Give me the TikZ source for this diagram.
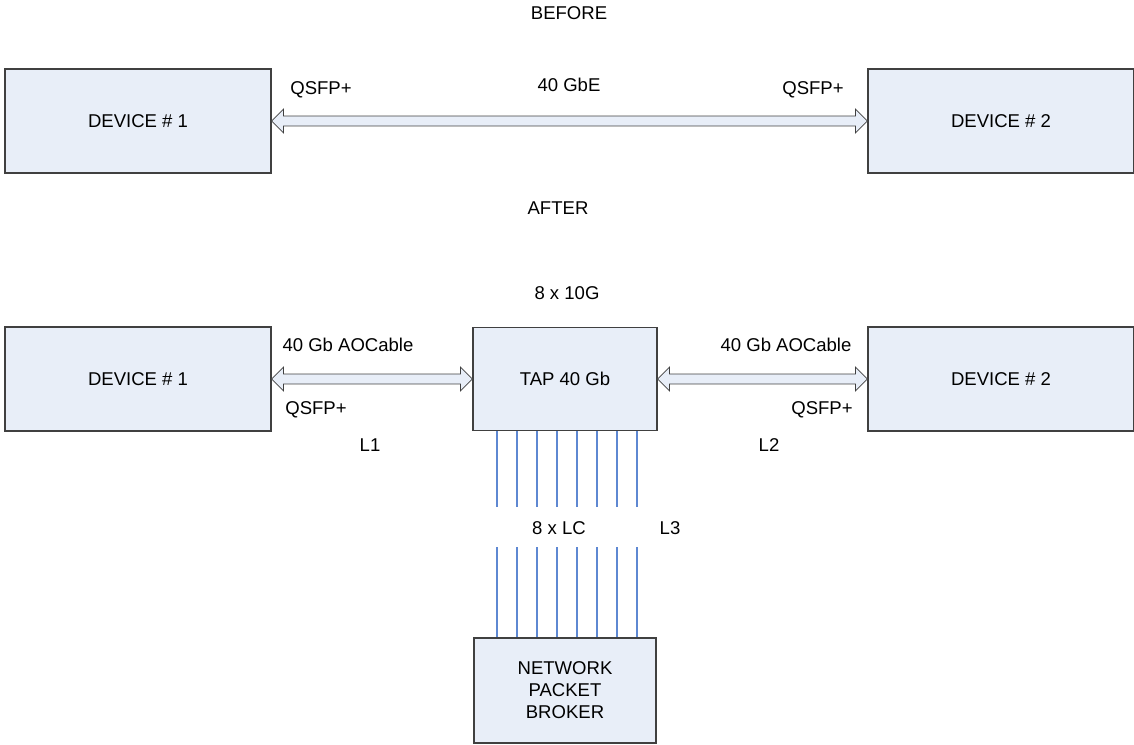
\documentclass[tikz,border=0pt]{standalone}
\usepackage{fontspec}
\setmainfont{Liberation Sans}
\usetikzlibrary{calc,positioning,shapes.arrows}

\definecolor{boxfill}{HTML}{E8EEF8}
\definecolor{boxline}{HTML}{404040}
\definecolor{fibre}{HTML}{5E88D2}

\tikzset{
  unit/.style = {draw=boxline, fill=boxfill, line width=1pt, align=center, inner sep=0pt},
  device/.style = {unit, minimum width=199.5pt, minimum height=78pt},
  tapbox/.style = {unit, minimum width=138pt, minimum height=77.25pt},
  npbbox/.style = {unit, minimum width=136.5pt, minimum height=78.75pt},
  dlink/.style = {double arrow, draw=boxline, fill=boxfill, line width=0.6pt,
                  inner xsep=0pt, inner ysep=3.4pt,
                  double arrow head extend=5.2pt, double arrow tip angle=90,
                  double arrow head indent=0pt},
  fibreline/.style = {draw=fibre, line width=0.8pt},
}

\begin{document}
\begin{tikzpicture}[x=0.75pt, y=-0.75pt, font=\fontsize{13.9}{16.5}\selectfont]
  \useasboundingbox (0,0) rectangle (1134,745);

  % before
  \node (before) at (569,13) {BEFORE};
  \node[device] (d1a) at (138,121) {DEVICE \# 1};
  \node[device] (d2a) at (1001,121) {DEVICE \# 2};

  \path let \p1 = ($(d2a.west)-(d1a.east)$) in
    node[dlink, minimum height=\x1] (linka) at ($(d1a.east)!0.5!(d2a.west)$) {};

  \node (qa1) at (321,90) {QSFP+};
  \node (speed) at (569,85) {40 GbE};
  \node (qa2) at (813,90) {QSFP+};

  % after
  \node (after) at (558,208) {AFTER};
  \node (tens) at (567,293) {8 x 10G};

  \node[device] (d1b) at (138,379) {DEVICE \# 1};
  \node[tapbox] (tap) at (565,379) {TAP 40 Gb};
  \node[device] (d2b) at (1001,379) {DEVICE \# 2};
  \node[npbbox] (npb) at (565,690.5) {NETWORK\\PACKET\\BROKER};

  \path let \p1 = ($(tap.west)-(d1b.east)$) in
    node[dlink, minimum height=\x1] (l1) at ($(d1b.east)!0.5!(tap.west)$) {};
  \path let \p1 = ($(d2b.west)-(tap.east)$) in
    node[dlink, minimum height=\x1] (l2) at ($(tap.east)!0.5!(d2b.west)$) {};

  \node (aoc1) at (348,345) {40 Gb AOCable};
  \node (qb1) at (316,410) {QSFP+};
  \node (lab1) at (370,445) {L1};
  \node (aoc2) at (786,345) {40 Gb AOCable};
  \node (qb2) at (822,410) {QSFP+};
  \node (lab2) at (769,445) {L2};

  % 8 fibres, broken in the middle
  \foreach \i in {0,...,7} {
    \coordinate (fa\i) at ($(tap.south)+(-68+20*\i,76)$);
    \coordinate (fb\i) at ($(npb.north)+(-68+20*\i,-90)$);
    \draw[fibreline] ($(tap.south)+(-68+20*\i,0)$) -- (fa\i);
    \draw[fibreline] (fb\i) -- ($(npb.north)+(-68+20*\i,0)$);
  }
  \node (lc) at (559,528) {8 x LC};
  \node (lab3) at (670,528) {L3};
\end{tikzpicture}
\end{document}
